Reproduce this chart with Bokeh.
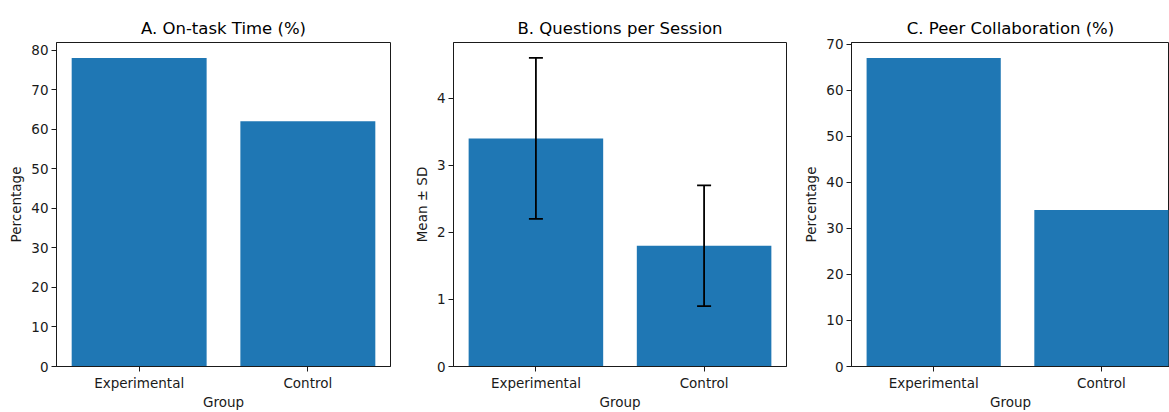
from bokeh.plotting import figure
from bokeh.models import Range1d, FixedTicker, Whisker, TeeHead, ColumnDataSource
from bokeh.layouts import row
from bokeh.embed import file_html
from bokeh.resources import INLINE

# ---- data ----
groups = ["Experimental", "Control"]
on_task_pct = [78, 62]
questions_mean = [3.4, 1.8]
questions_sd = [1.2, 0.9]
collab_pct = [67, 34]
ticks_a = [0, 10, 20, 30, 40, 50, 60, 70, 80]
ticks_b = [0, 1, 2, 3, 4]
ticks_c = [0, 10, 20, 30, 40, 50, 60, 70]

FONT = "DejaVu Sans"
BAR = "#1f77b4"
INK = "#1a1a1a"
H = 412


def make_panel(title, ylabel, values, yticks, ymax, width, lb, rb, xend=1.49):
    xs = list(range(len(groups)))
    p = figure(width=width, height=H, output_backend="svg", toolbar_location=None,
               x_range=Range1d(-0.49, xend), y_range=Range1d(0, ymax),
               min_border_left=lb, min_border_right=rb, min_border_top=42,
               min_border_bottom=44)
    p.vbar(x=xs, top=values, width=0.8, fill_color=BAR, line_color=None)
    p.title.text = title
    p.title.align = "center"
    p.title.text_font = FONT
    p.title.text_font_size = "16.5px"
    p.title.text_font_style = "normal"
    p.title.text_color = "black"
    p.title.standoff = 9
    p.xgrid.visible = False
    p.ygrid.visible = False
    p.outline_line_color = INK
    p.outline_line_width = 1
    p.outline_line_alpha = 1
    p.background_fill_color = "white"
    p.border_fill_color = "white"

    p.xaxis.ticker = FixedTicker(ticks=xs)
    p.xaxis.major_label_overrides = {i: g for i, g in enumerate(groups)}
    p.xaxis.axis_label = "Group"
    p.yaxis.ticker = FixedTicker(ticks=yticks)
    p.yaxis.axis_label = ylabel
    for ax in (p.xaxis, p.yaxis):
        ax.axis_line_color = INK
        ax.major_tick_line_color = INK
        ax.minor_tick_line_color = None
        ax.major_tick_in = 0
        ax.major_tick_out = 5
        ax.major_label_text_font = FONT
        ax.major_label_text_font_size = "13.5px"
        ax.major_label_text_color = INK
        ax.axis_label_text_font = FONT
        ax.axis_label_text_font_size = "13.5px"
        ax.axis_label_text_font_style = "normal"
        ax.axis_label_text_color = INK
    p.xaxis.major_label_standoff = 3
    p.xaxis.axis_label_standoff = 0
    p.yaxis.major_label_standoff = 3
    p.yaxis.axis_label_standoff = 4
    return p, xs


pa, _ = make_panel("A. On-task Time (%)", "Percentage", on_task_pct, ticks_a,
                   max(on_task_pct) * 1.05, 410, 56, 20)

upper = [m + s for m, s in zip(questions_mean, questions_sd)]
lower = [m - s for m, s in zip(questions_mean, questions_sd)]
pb, xb = make_panel("B. Questions per Session", "Mean ± SD", questions_mean, ticks_b,
                    max(upper) * 1.05, 390, 42, 14)
src = ColumnDataSource(dict(x=xb, upper=upper, lower=lower))
wh = Whisker(source=src, base="x", upper="upper", lower="lower",
             line_color="black", line_width=1.8,
             upper_head=TeeHead(size=14, line_color="black", line_width=1.8),
             lower_head=TeeHead(size=14, line_color="black", line_width=1.8))
wh.level = "overlay"
pb.add_layout(wh)

pc, _ = make_panel("C. Peer Collaboration (%)", "Percentage", collab_pct, ticks_c,
                   max(collab_pct) * 1.05, 369, 48, 0, xend=1.406)

layout = row(pa, pb, pc)
open("out.html", "w").write(file_html(layout, INLINE))
